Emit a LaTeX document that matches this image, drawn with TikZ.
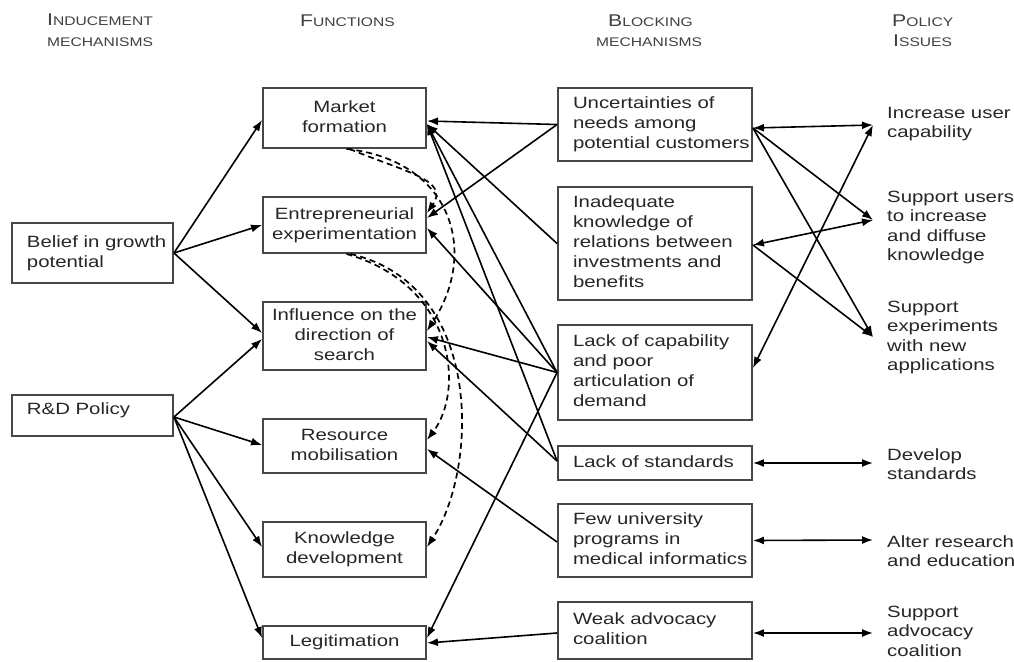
\documentclass[tikz,border=0pt]{standalone}
\usepackage{fontspec}
\setmainfont{Liberation Sans}[FakeStretch=1.25]
\usetikzlibrary{arrows.meta}

% header words: large initial capital followed by small capitals
\newcommand\hcap[2]{{\fontsize{17}{20}\selectfont #1}{\fontsize{12.5}{20}\selectfont #2}}
% left-aligned block of lines inside a box of given inner width
\newcommand\lbox[2]{\makebox[#1pt][l]{\begin{tabular}{@{}l@{}}#2\end{tabular}}}
% centred block of lines
\newcommand\cbox[1]{\begin{tabular}{@{}c@{}}#1\end{tabular}}
% free lines, baseline at the first line
\newcommand\ltab[1]{\begin{tabular}[t]{@{}l@{}}#1\end{tabular}}

\begin{document}
\begin{tikzpicture}[x=1pt,y=-1pt,
  font=\fontsize{16.3}{20}\selectfont,
  box/.style={draw=black!72, line width=1.9pt, inner sep=0pt, text=black!85},
  tip/.style={Latex[length=11pt,width=8pt]},
  link/.style={line width=1.6pt, -{Latex[length=11pt,width=8pt]}},
  both/.style={line width=1.6pt, {Latex[length=11pt,width=8pt]}-{Latex[length=11pt,width=8pt]}},
  hint/.style={line width=1.7pt, dash pattern=on 6pt off 4pt, -{Latex[length=11pt,width=8pt]}},
  hdr/.style={anchor=base west, inner sep=0pt, text=black!75},
  issue/.style={anchor=base west, inner sep=0pt, text=black!85, font=\fontsize{16.3}{19.5}\selectfont}]

\useasboundingbox[fill=white] (0,0) rectangle (1014,661);

% column headers
\node[hdr] (h1a) at (47,26) {\hcap{I}{NDUCEMENT}};
\node[hdr] (h1b) at (47,47) {\hcap{}{MECHANISMS}};
\node[hdr] (h2)  at (300,27) {\hcap{F}{UNCTIONS}};
\node[hdr] (h3a) at (608,27) {\hcap{B}{LOCKING}};
\node[hdr] (h3b) at (596,47) {\hcap{}{MECHANISMS}};
\node[hdr] (h4a) at (892,27) {\hcap{P}{OLICY}};
\node[hdr] (h4b) at (893,47) {\hcap{I}{SSUES}};

% inducement mechanisms
\node[box, minimum width=161pt, minimum height=60pt] (bel) at (92.5,253)
  {\lbox{131}{Belief in growth\\potential}};
\node[box, minimum width=161pt, minimum height=41pt] (rd) at (92.5,415.5)
  {\lbox{131}{\rule[-16pt]{0pt}{16pt}R\&D Policy}};

% functions
\node[box, minimum width=163pt, minimum height=60pt] (mf)  at (344.5,118)   {\cbox{Market\\formation}};
\node[box, minimum width=163pt, minimum height=56pt] (ee)  at (344.5,225)   {\cbox{Entrepreneurial\\experimentation}};
\node[box, minimum width=163pt, minimum height=68pt] (inf) at (344.5,336)   {\cbox{Influence on the\\direction of\\search}};
\node[box, minimum width=163pt, minimum height=54pt] (rm)  at (344.5,446)   {\cbox{Resource\\mobilisation}};
\node[box, minimum width=163pt, minimum height=55pt] (kd)  at (344.5,549.5) {\cbox{Knowledge\\development}};
\node[box, minimum width=163pt, minimum height=33pt] (leg) at (344.5,642.5) {\cbox{Legitimation}};

% blocking mechanisms
\node[box, minimum width=194pt, minimum height=73pt]  (unc)  at (655,124.5)
  {\lbox{164}{Uncertainties of\\needs among\\potential customers}};
\node[box, minimum width=194pt, minimum height=113pt] (inad) at (655,243.5)
  {\lbox{164}{Inadequate\\knowledge of\\relations between\\investments and\\benefits}};
\node[box, minimum width=194pt, minimum height=95pt]  (cap)  at (655,372.5)
  {\lbox{164}{Lack of capability\\and poor\\articulation of\\demand}};
\node[box, minimum width=194pt, minimum height=34pt]  (std)  at (655,463)
  {\lbox{164}{Lack of standards}};
\node[box, minimum width=194pt, minimum height=73pt]  (few)  at (655,540.5)
  {\lbox{164}{Few university\\programs in\\medical informatics}};
\node[box, minimum width=194pt, minimum height=57pt]  (weak) at (655,630.5)
  {\lbox{164}{Weak advocacy\\coalition}};

% policy issues
\node[issue] (inc) at (887,118) {\ltab{Increase user\\capability}};
\node[issue] (sup) at (887,202) {\ltab{Support users\\to increase\\and diffuse\\knowledge}};
\node[issue] (exp) at (887,312) {\ltab{Support\\experiments\\with new\\applications}};
\node[issue] (dev) at (887,460) {\ltab{Develop\\standards}};
\node[issue] (alt) at (887,547) {\ltab{Alter research\\and education}};
\node[issue] (adv) at (887,617) {\ltab{Support\\advocacy\\coalition}};

\coordinate (incP) at (873,125);
\coordinate (supP) at (873,220);
\coordinate (expP) at (873,337);
\coordinate (devP) at (873,463);
\coordinate (altP) at (873,540);
\coordinate (advP) at (873,633);

% inducement mechanisms acting on functions
\draw[link] (bel.east) -- ([yshift=-2pt]mf.west);
\draw[link] (bel.east) -- (ee.west);
\draw[link] (bel.east) -- ([yshift=3pt]inf.west);
\draw[link] ([yshift=-1.5pt]rd.east) -- ([yshift=-3pt]inf.west);
\draw[link] ([yshift=-1.5pt]rd.east) -- ([yshift=1pt]rm.west);
\draw[link] ([yshift=-1.5pt]rd.east) -- ([yshift=2.5pt]kd.west);
\draw[link] ([yshift=-1.5pt]rd.east) -- ([yshift=4.5pt]leg.west);

% interplay between functions
\draw[hint] ([xshift=5pt]mf.south) .. controls (405,172) and (450,180) .. ([yshift=12pt]ee.east);
\draw[hint] ([xshift=2pt]mf.south) .. controls (450,160) and (480,250) .. ([yshift=5pt]inf.east);
\draw[hint] ([xshift=2pt]ee.south) .. controls (455,285) and (465,390) .. ([yshift=6pt]rm.east);
\draw[hint] ([xshift=6pt]ee.south) .. controls (485,285) and (478,470) .. ([yshift=2.5pt]kd.east);

% blocking mechanisms acting on functions
\draw[link] (unc.west) -- ([yshift=-3pt]mf.east);
\draw[link] (unc.west) -- ([yshift=7pt]ee.east);
\draw[link] (inad.west) -- ([yshift=-6pt]mf.east);
\draw[link] (cap.west) -- ([yshift=-6pt]mf.east);
\draw[link] ([yshift=2pt]std.west) -- ([yshift=-6pt]mf.east);
\draw[link] (cap.west) -- ([yshift=-3pt]ee.east);
\draw[link] (cap.west) -- ([yshift=-1pt]inf.east);
\draw[link] ([yshift=2pt]std.west) -- ([yshift=-5pt]inf.east);
\draw[link] ([yshift=-1.5pt]few.west) -- ([yshift=-3pt]rm.east);
\draw[link] (cap.west) -- ([yshift=4.5pt]leg.east);
\draw[link] ([yshift=-2.5pt]weak.west) -- ([yshift=-0.5pt]leg.east);

% blocking mechanisms and policy issues
\draw[both] ([yshift=-3.5pt]unc.east) -- (incP);
\draw[link] ([yshift=-3.5pt]unc.east) -- (supP);
\draw[link] ([yshift=-3.5pt]unc.east) -- (expP);
\draw[both] ([yshift=-1.5pt]inad.east) -- (supP);
\draw[link] ([yshift=-1.5pt]inad.east) -- (expP);
\draw[both] ([yshift=4.5pt]cap.east) -- (incP);
\draw[both] (std.east) -- (devP);
\draw[both] (few.east) -- (altP);
\draw[both] ([yshift=-2.5pt]weak.east) -- (advP);
\end{tikzpicture}
\end{document}
